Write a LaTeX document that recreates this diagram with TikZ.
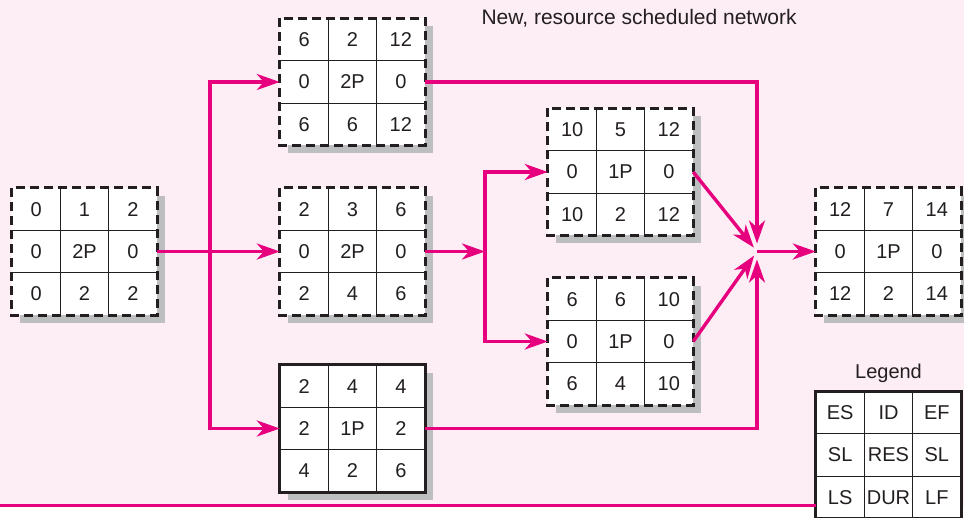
\documentclass[tikz,border=0pt]{standalone}
\usepackage{fontspec}
\setmainfont{Liberation Sans}
\usetikzlibrary{
  arrows.meta,
  calc,
  positioning,
  shadows
}
\definecolor{netInk}{HTML}{231F20}
\definecolor{netPink}{HTML}{E6007E}
\definecolor{netBlush}{HTML}{FDEDF4}
\definecolor{netShadow}{HTML}{BCBEC0}
\tikzset{
  every node/.style={font=\fontsize{20}{22}\selectfont, text=netInk},
  actbox/.style={
    minimum width=145pt,
    minimum height=127pt,
    inner sep=0pt,
    fill=white,
    drop shadow={shadow xshift=8pt, shadow yshift=-8pt, fill=netShadow, opacity=1}
  },
  legendbox/.style={
    minimum width=145pt,
    minimum height=127pt,
    inner sep=0pt,
    fill=white
  },
  cellline/.style={draw=netInk, line width=1.2pt},
  dashedrim/.style={draw=netInk, line width=2.8pt, dash pattern=on 9pt off 5pt},
  solidrim/.style={draw=netInk, line width=2.8pt},
  flow/.style={
    -{Stealth[length=23pt,width=16pt,inset=7pt]},
    line width=3.4pt,
    draw=netPink
  }
}

\begin{document}
\begin{tikzpicture}[x=1pt,y=-1pt]
  \useasboundingbox (0,0) rectangle (964,518);
  \fill[netBlush] (0,0) rectangle (964,507);

  \node[anchor=west, font=\fontsize{21}{23}\selectfont] (title) at (478,18)
    {New, resource scheduled network};

  \foreach \name/\cx/\cy/\rim/\shade/\a/\b/\c/\d/\e/\f/\g/\h/\i in {
    start/84.5/251.5/dashedrim/actbox/0/1/2/0/2P/0/0/2/2,
    upper/352.5/82/dashedrim/actbox/6/2/12/0/2P/0/6/6/12,
    middle/352.5/251.5/dashedrim/actbox/2/3/6/0/2P/0/2/4/6,
    lower/352.5/428.5/solidrim/actbox/2/4/4/2/1P/2/4/2/6,
    north/620.5/172/dashedrim/actbox/10/5/12/0/1P/0/10/2/12,
    south/620.5/341.5/dashedrim/actbox/6/6/10/0/1P/0/6/4/10,
    finish/888.5/251.5/dashedrim/actbox/12/7/14/0/1P/0/12/2/14,
    legend/888.5/455/solidrim/legendbox/ES/ID/EF/SL/RES/SL/LS/DUR/LF
  }{
    \node[\shade] (\name) at (\cx,\cy) {};
    \foreach \s in {-1,1}{
      \draw[cellline] ($(\name.north)+(\s*24.17,0)$) -- ($(\name.south)+(\s*24.17,0)$);
      \draw[cellline] ($(\name.west)+(0,\s*21.17)$) -- ($(\name.east)+(0,\s*21.17)$);
    }
    \foreach \k/\val in {0/\a,1/\b,2/\c,3/\d,4/\e,5/\f,6/\g,7/\h,8/\i}{
      \pgfmathtruncatemacro\col{mod(\k,3)}
      \pgfmathtruncatemacro\row{\k/3}
      \node (\name-\k) at ($(\name)+({(\col-1)*48.33},{(\row-1)*42.33})$) {\val};
    }
    \draw[\rim] (\name.north west) rectangle (\name.south east);
  }

  \node[above=5pt of legend] (legendtitle) {Legend};

  % splits and merge point
  \coordinate (split1) at (210,251.5);
  \coordinate (split2) at (485,251.5);
  \coordinate (merge) at (757,251.5);
  \coordinate (rulestart) at (0,505.5);

  \draw[flow] (start.east) -- (middle.west);
  \draw[flow] (split1) |- (upper.west);
  \draw[flow] (split1) |- (lower.west);
  \draw[flow] (middle.east) -- (split2);
  \draw[flow] (split2) |- (north.west);
  \draw[flow] (split2) |- (south.west);
  \draw[flow, shorten >=8pt] (upper.east) -| (merge);
  \draw[flow, shorten >=8pt] (lower.east) -| (merge);
  \draw[flow, shorten >=5pt] (north.east) -- (merge);
  \draw[flow, shorten >=5pt] (south.east) -- (merge);
  \draw[flow] (merge) -- (finish.west);

  \draw[netPink, line width=2.5pt] (rulestart) -- (rulestart -| legend.west);
\end{tikzpicture}
\end{document}
